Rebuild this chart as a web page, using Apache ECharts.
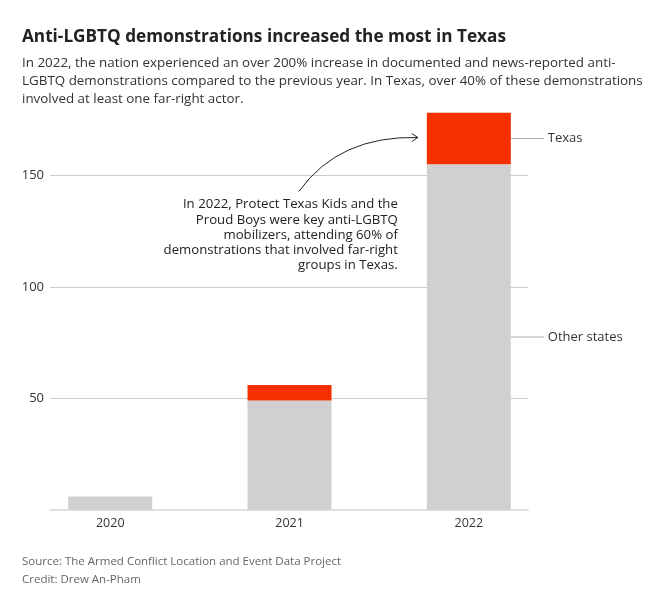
<!DOCTYPE html>
<html><head><meta charset="utf-8">
<script src="https://cdn.jsdelivr.net/npm/echarts@6/dist/echarts.min.js"></script>
<style>
html,body{margin:0;padding:0;background:#fff;}
#c{width:660px;height:602px;}
</style></head>
<body><div id="c"></div>
<script>
const years = ['2020', '2021', '2022'];
const otherStates = [6, 49, 155];
const texas = [0, 7, 23];
const yTicks = [50, 100, 150];

const FONT = '"Open Sans", "Noto Sans", sans-serif';
const chart = echarts.init(document.getElementById('c'), null, {renderer: 'canvas'});

function sideLabel(name) {
  return {
    show: true, position: 'right', distance: 0,
    formatter: '{l|}{t|' + name + '}',
    rich: {
      l: {width: 33, height: 1, backgroundColor: '#b0b0b0'},
      t: {fontFamily: FONT, fontSize: 13, color: '#333', padding: [0, 0, 0, 4]}
    }
  };
}

// value first, position second -> stacking happens on the value (y) dimension
const otherData = otherStates.map((v, i) => {
  const d = {value: [v, i]};
  if (i === years.length - 1) d.label = sideLabel('Other states');
  return d;
});
const texasData = texas.map((v, i) => {
  const d = {value: [v, i]};
  if (i === years.length - 1) d.label = sideLabel('Texas');
  return d;
});

const option = {
  animation: false,
  backgroundColor: '#fff',
  title: [
    {text: 'Anti-LGBTQ demonstrations increased the most in Texas', left: 22, top: 28.5, padding: 0,
     textStyle: {fontFamily: FONT, fontSize: 17.2, fontWeight: 'bold', color: '#222'}},
    {text: 'In 2022, the nation experienced an over 200% increase in documented and news-reported anti-\nLGBTQ demonstrations compared to the previous year. In Texas, over 40% of these demonstrations\ninvolved at least one far-right actor.',
     left: 22, top: 54, padding: 0,
     textStyle: {fontFamily: FONT, fontSize: 13.4, fontWeight: 'normal', color: '#333', lineHeight: 18}},
    {text: 'Source: The Armed Conflict Location and Event Data Project\nCredit: Drew An-Pham',
     left: 22, top: 553, padding: 0,
     textStyle: {fontFamily: FONT, fontSize: 11.5, fontWeight: 'normal', color: '#666', lineHeight: 18}}
  ],
  grid: {left: 50, right: 132, top: 108.4, bottom: 92.2, containLabel: false},
  xAxis: {
    type: 'value', min: -0.336, max: 2.33,
    splitLine: {show: false},
    axisTick: {show: false},
    axisLine: {show: true, lineStyle: {color: '#e0e0e0', width: 2}},
    axisLabel: {customValues: [0, 1, 2], formatter: v => years[Math.round(v)],
      fontFamily: FONT, fontSize: 12.5, color: '#333', margin: 7}
  },
  yAxis: {
    type: 'value', min: 0, max: 180, interval: 50,
    axisLine: {show: false}, axisTick: {show: false},
    axisLabel: {customValues: yTicks, fontFamily: FONT, fontSize: 13, color: '#333', margin: 6},
    splitLine: {show: true, showMaxLine: false, showMinLine: false, lineStyle: {color: '#cccccc', width: 1}}
  },
  series: [
    {name: 'Other states', type: 'bar', stack: 's', barWidth: 84, data: otherData,
     encode: {x: 1, y: 0}, itemStyle: {color: '#d0d0d0'}, z: 3},
    {name: 'Texas', type: 'bar', stack: 's', barWidth: 84, data: texasData,
     encode: {x: 1, y: 0}, itemStyle: {color: '#f52f00'}, z: 3}
  ]
};
chart.setOption(option);

// Annotation with arrow pointing to the 2022 Texas segment
const last = years.length - 1;
const tip = chart.convertToPixel({gridIndex: 0}, [last, otherStates[last] + texas[last] * 0.5]);
const endX = tip[0] - 51, endY = tip[1] - 1;
const startX = endX - 119, startY = endY + 54;
chart.setOption({
  graphic: [
    {type: 'bezierCurve', shape: {x1: startX, y1: startY, x2: endX, y2: endY,
      cpx1: startX + 40, cpy1: endY - 2},
     style: {stroke: '#222', lineWidth: 1, fill: null}, z: 10},
    {type: 'polyline', shape: {points: [[endX - 6, endY - 4], [endX, endY], [endX - 6, endY + 4]]},
     style: {stroke: '#222', lineWidth: 1, fill: null}, z: 10},
    {type: 'text', x: endX - 20, y: startY + 5.5,
     style: {text: 'In 2022, Protect Texas Kids and the\nProud Boys were key anti-LGBTQ\nmobilizers, attending 60% of\ndemonstrations that involved far-right\ngroups in Texas.',
       align: 'right', verticalAlign: 'top', fontFamily: FONT, fontSize: 13.2, lineHeight: 15.2,
       fill: '#222', backgroundColor: '#fff'}, z: 10}
  ]
});
</script></body></html>
